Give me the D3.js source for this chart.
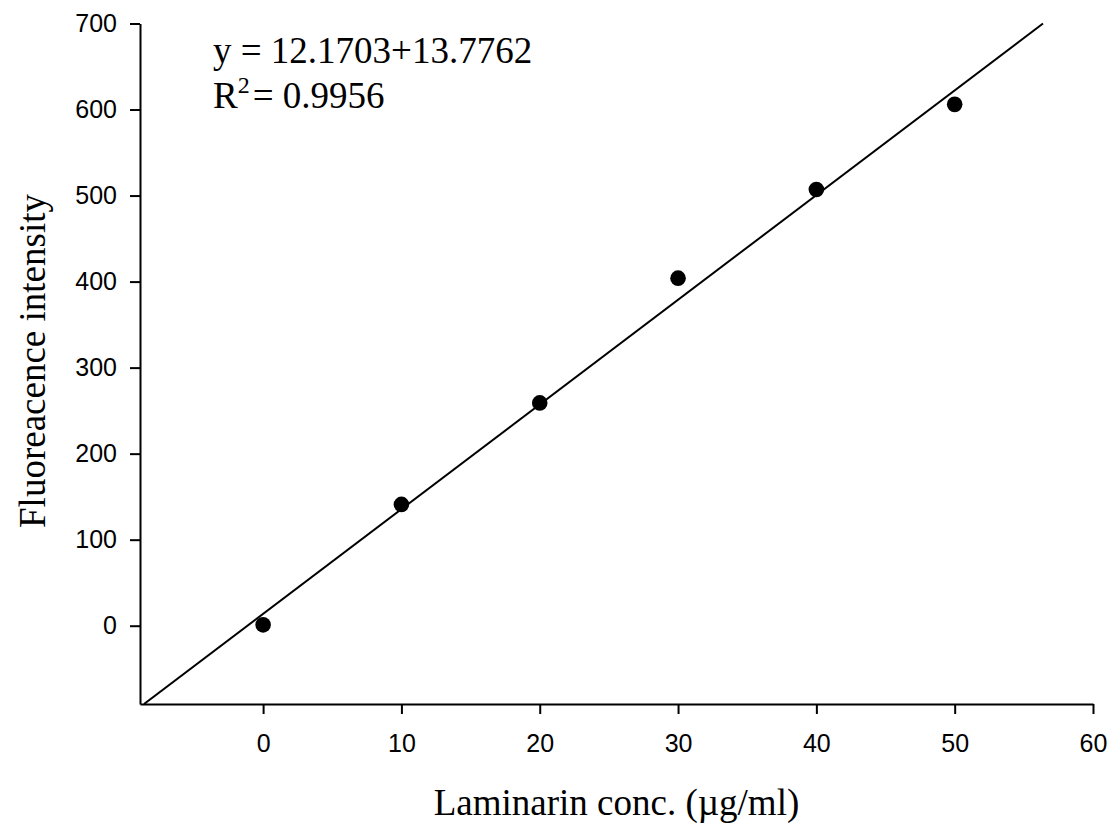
<!DOCTYPE html>
<html>
<head>
<meta charset="utf-8">
<script src="https://cdn.jsdelivr.net/npm/d3@7"></script>
<style>
  body { margin: 0; background: #fff; }
  svg { display: block; }
</style>
</head>
<body>
<svg id="chart" width="1113" height="827"></svg>
<script>
// measured points
const concentrations = [0, 10, 20, 30, 40, 50];
const intensities = [1, 141, 259, 404, 507, 606];
const xTicks = [0, 10, 20, 30, 40, 50, 60];
const yTicks = [0, 100, 200, 300, 400, 500, 600, 700];
// regression line y = slope * x + intercept
const slope = 12.1703;
const intercept = 13.7762;

const svg = d3.select("#chart");
const plotLeft = 140, plotRight = 1093, plotTop = 23.5, plotBottom = 704;

const x = d3.scaleLinear().domain([-8.9, 60]).range([plotLeft, plotRight]);
const y = d3.scaleLinear().domain([-91, 700]).range([plotBottom, plotTop]);

// x axis
const xAxis = svg.append("g")
    .attr("transform", `translate(0,${plotBottom})`)
    .call(d3.axisBottom(x).tickValues(xTicks).tickSize(10).tickSizeOuter(0).tickPadding(20));

// y axis
const yAxis = svg.append("g")
    .attr("transform", `translate(${plotLeft},0)`)
    .call(d3.axisLeft(y).tickValues(yTicks).tickSize(10).tickSizeOuter(0).tickPadding(13));

[xAxis, yAxis].forEach(g => {
    g.select(".domain").attr("stroke", "#000").attr("stroke-width", 2);
    g.selectAll(".tick line").attr("stroke", "#000").attr("stroke-width", 2);
    g.selectAll(".tick text")
        .attr("fill", "#000")
        .style("font-family", "'Liberation Sans', Arial, sans-serif")
        .style("font-size", "25px");
});

// clip for regression line
svg.append("clipPath").attr("id", "plotClip")
    .append("rect")
    .attr("x", plotLeft).attr("y", plotTop - 2)
    .attr("width", plotRight - plotLeft).attr("height", plotBottom - plotTop + 2);

const xEnd = (700 - intercept) / slope;
const xStart = (-91 - intercept) / slope;
svg.append("line")
    .attr("clip-path", "url(#plotClip)")
    .attr("x1", x(xStart)).attr("y1", y(slope * xStart + intercept))
    .attr("x2", x(xEnd)).attr("y2", y(slope * xEnd + intercept))
    .attr("stroke", "#000")
    .attr("stroke-width", 2);

// points
svg.append("g")
    .selectAll("circle")
    .data(concentrations.map((c, i) => [c, intensities[i]]))
    .join("circle")
    .attr("cx", d => x(d[0]))
    .attr("cy", d => y(d[1]))
    .attr("r", 7.8)
    .attr("fill", "#000");

const serif = "'Liberation Serif', 'Times New Roman', serif";

// axis titles
svg.append("text")
    .attr("x", (plotLeft + plotRight) / 2)
    .attr("y", 815)
    .attr("text-anchor", "middle")
    .style("font-family", serif)
    .style("font-size", "37px")
    .text("Laminarin conc. (\u00b5g/ml)");

svg.append("text")
    .attr("transform", "translate(45,361) rotate(-90)")
    .attr("text-anchor", "middle")
    .style("font-family", serif)
    .style("font-size", "37px")
    .text("Fluoreacence intensity");

// equation
svg.append("text")
    .attr("x", 213).attr("y", 63)
    .style("font-family", serif)
    .style("font-size", "37px")
    .text("y = 12.1703+13.7762");

const r2 = svg.append("text")
    .attr("x", 213).attr("y", 108)
    .style("font-family", serif)
    .style("font-size", "37px");
r2.append("tspan").text("R");
r2.append("tspan").attr("dy", -15).style("font-size", "24px").text("2");
r2.append("tspan").attr("dy", 15).attr("dx", 3).text("= 0.9956");
</script>
</body>
</html>
